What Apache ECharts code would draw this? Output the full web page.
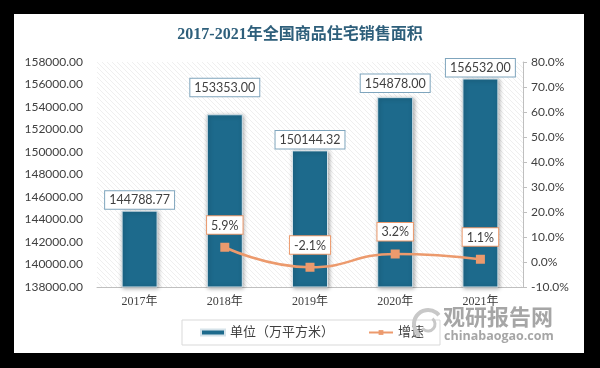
<!DOCTYPE html>
<html>
<head>
<meta charset="utf-8">
<script src="https://cdn.jsdelivr.net/npm/echarts@6/dist/echarts.min.js"></script>
<style>
html,body{margin:0;padding:0;background:#000;}
#main{width:600px;height:368px;}
</style>
</head>
<body>
<div id="main"></div>
<script>
const titleText = '2017-2021年全国商品住宅销售面积';
const categories = ['2017年', '2018年', '2019年', '2020年', '2021年'];
const areaValues = [144788.77, 153353.00, 150144.32, 154878.00, 156532.00];
const growthValues = [null, 5.9, -2.1, 3.2, 1.1];
const barSeriesName = '单位（万平方米）';
const lineSeriesName = '增速';

// hatch pattern
const pc = document.createElement('canvas');
pc.width = 5; pc.height = 5;
const pctx = pc.getContext('2d');
pctx.fillStyle = '#ffffff';
pctx.fillRect(0, 0, 5, 5);
pctx.strokeStyle = '#efefef';
pctx.lineWidth = 1;
pctx.beginPath();
pctx.moveTo(0, 0); pctx.lineTo(5, 5);
pctx.moveTo(-2.5, 2.5); pctx.lineTo(2.5, 7.5);
pctx.moveTo(2.5, -2.5); pctx.lineTo(7.5, 2.5);
pctx.stroke();

const chart = echarts.init(document.getElementById('main'), null, {renderer: 'canvas'});
const barColor = '#1d6a8c';
const lineColor = '#ec9a6d';
const sansFont = 'Lato, "Noto Sans CJK SC", sans-serif';
const serifFont = '"Liberation Serif", "Noto Sans CJK SC", serif';

chart.setOption({
  backgroundColor: '#000',
  animation: false,
  title: {
    text: titleText,
    left: 'center',
    top: 22,
    textStyle: {fontFamily: serifFont, fontSize: 16, fontWeight: 'bold', color: '#2e5f7b'}
  },
  graphic: [
    {type: 'rect', z: -10, shape: {x: 14, y: 14, width: 570, height: 339}, style: {fill: '#ffffff'}},
    {type: 'arc', z: 10, shape: {cx: 428, cy: 324, r: 14, startAngle: 2.2, endAngle: 5.6}, style: {stroke: '#c8c8c8', lineWidth: 4, fill: null}},
    {type: 'arc', z: 10, shape: {cx: 428, cy: 324, r: 7, startAngle: 5.4, endAngle: 8.8}, style: {stroke: '#c8c8c8', lineWidth: 3, fill: null}},
    {type: 'text', z: 10, left: 443, top: 306, style: {text: '观研报告网', font: 'bold 22px "Noto Sans CJK SC", sans-serif', fill: '#a6a6a6'}},
    {type: 'text', z: 10, left: 444, top: 330, style: {text: 'chinabaogao.com', font: 'bold 12.5px "Open Sans", sans-serif', fill: '#a6a6a6'}}
  ],
  grid: {
    left: 97, right: 77, top: 62, bottom: 81,
    show: true,
    borderWidth: 0,
    backgroundColor: {image: pc, repeat: 'repeat'}
  },
  legend: {
    left: 182, top: 320,
    padding: [6, 16, 6, 18],
    itemGap: 34,
    borderColor: '#d9d9d9', borderWidth: 1,
    textStyle: {fontFamily: serifFont, fontSize: 13, color: '#404040'},
    data: [
      {name: barSeriesName, icon: 'rect', itemStyle: {color: barColor}},
      {name: lineSeriesName}
    ],
    itemWidth: 24, itemHeight: 6
  },
  xAxis: {
    type: 'category',
    data: categories,
    axisLine: {onZero: false, lineStyle: {color: '#bfbfbf', width: 1}},
    axisTick: {show: false},
    axisLabel: {fontFamily: serifFont, fontSize: 12, color: '#404040', margin: 9}
  },
  yAxis: [
    {
      type: 'value', min: 138000, max: 158000, interval: 2000,
      axisLine: {show: false}, axisTick: {show: false},
      splitLine: {show: false},
      axisLabel: {fontFamily: sansFont, fontSize: 12, color: '#404040', margin: 14,
        formatter: v => v.toFixed(2)}
    },
    {
      type: 'value', min: -10, max: 80, interval: 10, position: 'right',
      axisLine: {show: true, onZero: false, lineStyle: {color: '#bfbfbf'}},
      axisTick: {show: true, length: 4, lineStyle: {color: '#bfbfbf'}},
      splitLine: {show: false},
      axisLabel: {fontFamily: sansFont, fontSize: 12, color: '#404040', margin: 8,
        formatter: v => v.toFixed(1) + '%'}
    }
  ],
  series: [
    {
      name: barSeriesName,
      type: 'bar',
      yAxisIndex: 0,
      barWidth: 36,
      data: areaValues.map((v, i) => ({value: v, label: {offset: [0, i === 1 ? -16 : (i === 3 ? -3 : 0)]}})),
      itemStyle: {
        color: barColor,
        borderColor: '#d6e3ea', borderWidth: 1,
        shadowBlur: 4, shadowColor: 'rgba(0,0,0,0.35)', shadowOffsetX: 1, shadowOffsetY: 1
      },
      label: {
        show: true, position: 'top', distance: 2,
        formatter: p => p.value.toFixed(2),
        fontFamily: sansFont, fontSize: 12.5, color: '#404040',
        backgroundColor: '#fff', borderColor: '#7fa5bd', borderWidth: 1,
        padding: [3, 4, 2, 4]
      }
    },
    {
      name: lineSeriesName,
      type: 'line',
      yAxisIndex: 1,
      data: growthValues,
      smooth: true,
      symbol: 'rect', symbolSize: 9,
      lineStyle: {color: lineColor, width: 2.5},
      itemStyle: {color: lineColor},
      label: {
        show: true, position: 'top', distance: 9,
        formatter: p => p.value.toFixed(1) + '%',
        fontFamily: sansFont, fontSize: 12.5, color: '#404040',
        backgroundColor: '#fff', borderColor: lineColor, borderWidth: 1,
        padding: [3, 4, 2, 4]
      }
    }
  ]
});
</script>
</body>
</html>
